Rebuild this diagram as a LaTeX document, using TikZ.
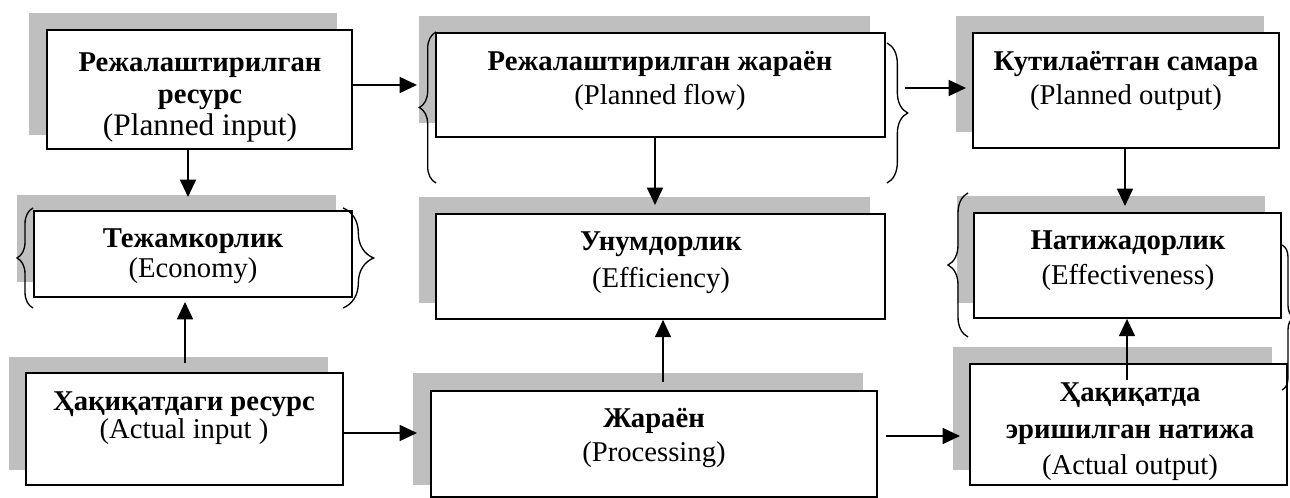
\documentclass[tikz,border=0pt]{standalone}
\usepackage{fontspec}
\setmainfont{Liberation Serif}
\usetikzlibrary{arrows.meta,decorations.pathreplacing,fit}
\definecolor{shadowgray}{RGB}{191,191,191}
\begin{document}
\begin{tikzpicture}[x=0.75pt,y=-0.75pt,
  box/.style={draw=black, fill=white, line width=1.3pt, inner sep=0pt},
  dbox/.style={box, line width=1.9pt},
  lbl/.style={align=center, inner sep=0pt, font=\fontsize{21.5}{#1}\selectfont},
  lbl/.default=25pt,
  arr/.style={line width=1.2pt, -{Triangle[length=13pt,width=12pt]}},
  brc/.style={decorate, decoration={brace, amplitude=#1}, line width=1pt},
]
\useasboundingbox (0,0) rectangle (1290,498);

% shadow panels behind the boxes
\fill[shadowgray] (29,13) rectangle (337,135);
\fill[shadowgray] (419,16) rectangle (870,123);
\fill[shadowgray] (956,16) rectangle (1264,132);
\fill[shadowgray] (17,195) rectangle (336,282);
\fill[shadowgray] (419,197) rectangle (870,303);
\fill[shadowgray] (957,196) rectangle (1265,303);
\fill[shadowgray] (9,357) rectangle (328,470);
\fill[shadowgray] (413,373) rectangle (863,485);
\fill[shadowgray] (953,347) rectangle (1272,470);

% boxes
\node[box, fit={(47,30) (352,149)}] (b1) {};
\node[box, fit={(436,33) (885,137)}] (b2) {};
\node[box, fit={(973,33) (1279,148)}] (b3) {};
\node[dbox, fit={(34,211) (352,297)}] (b4) {};
\node[box, fit={(436,214) (885,319)}] (b5) {};
\node[box, fit={(974,213) (1281,318)}] (b6) {};
\node[box, fit={(26,373) (343,485)}] (b7) {};
\node[box, fit={(431,391) (877,497)}] (b8) {};
\node[box, fit={(970,364) (1287,485)}] (b9) {};

% texts
\node[lbl=24pt] (t1) at (200,97) {\textbf{Режалаштирилган}\\\textbf{ресурс}\\{\fontsize{23.5}{24}\selectfont(Planned input)}};
\node[lbl=25.5pt] (t2) at (660,81) {\textbf{Режалаштирилган жараён}\\(Planned flow)};
\node[lbl=25.5pt] (t3) at (1126,81) {\textbf{Кутилаётган самара}\\(Planned output)};
\node[lbl=22.5pt] (t4) at (193,256) {\textbf{Тежамкорлик}\\(Economy)};
\node[lbl=27.5pt] (t5) at (661,263) {\textbf{Унумдорлик}\\(Efficiency)};
\node[lbl=26pt] (t6) at (1128,261) {\textbf{Натижадорлик}\\(Effectiveness)};
\node[lbl=21pt] (t7) at (184,418) {\textbf{Ҳақиқатдаги ресурс}\\(Actual input )};
\node[lbl=26pt] (t8) at (654,438) {\textbf{Жараён}\\(Processing)};
\node[lbl=27.5pt] (t9) at (1130,432) {\textbf{Ҳақиқатда}\\\textbf{эришилган натижа}\\(Actual output)};

% curly braces
\draw[brc=12.5pt] (436,183) -- (436,32);
\draw[brc=15.5pt] (887,43) -- (887,183);
\draw[brc=12pt] (33,308) -- (33,208);
\draw[brc=23pt] (343,208) -- (343,308);
\draw[brc=15pt] (968,337) -- (968,193);
\draw[brc=9pt] (1282,245) -- (1282,390);

% arrow end points
\coordinate (e1) at (417,85);
\coordinate (e2) at (188,197);
\coordinate (s3) at (905,88);
\coordinate (e3) at (966,88);
\coordinate (e4) at (655,205);
\coordinate (e5) at (1125,206);
\coordinate (s6) at (185,363);
\coordinate (e6) at (185,302);
\coordinate (e7) at (417,433);
\coordinate (s8) at (663,382);
\coordinate (s9) at (886,436);
\coordinate (e9) at (960,436);
\coordinate (s10) at (1127,380);

% connectors
\draw[arr] (b1.east |- e1) -- (e1);
\draw[arr] (e2 |- b1.south) -- (e2);
\draw[arr] (s3) -- (e3);
\draw[arr] (e4 |- b2.south) -- (e4);
\draw[arr] (e5 |- b3.south) -- (e5);
\draw[arr] (s6) -- (e6);
\draw[arr] (b7.east |- e7) -- (e7);
\draw[arr] (s8) -- (s8 |- b5.south);
\draw[arr] (s9) -- (e9);
\draw[arr] (s10) -- (s10 |- b6.south);
\end{tikzpicture}
\end{document}
